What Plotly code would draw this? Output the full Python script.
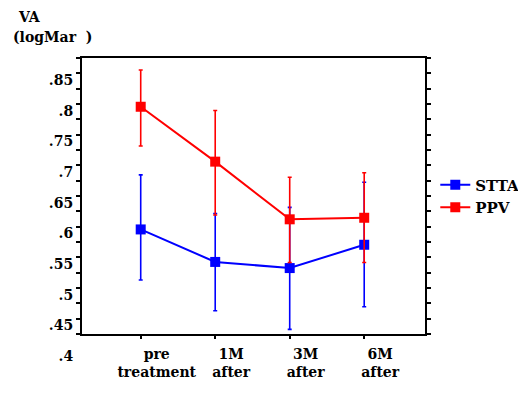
import plotly.graph_objects as go

# ---- data ----
categories = ["pre treatment", "1M after", "3M after", "6M after"]
x_tick_labels = ["pre<br>treatment", "1M<br>after", "3M<br>after", "6M<br>after"]

stta_mean = [0.606, 0.553, 0.543, 0.581]
stta_upper = [0.695, 0.632, 0.642, 0.683]
stta_lower = [0.5235, 0.4735, 0.443, 0.480]

ppv_mean = [0.806, 0.7165, 0.6225, 0.625]
ppv_upper = [0.866, 0.800, 0.691, 0.6985]
ppv_lower = [0.742, 0.6295, 0.552, 0.552]

y_tick_values = [0.40, 0.45, 0.50, 0.55, 0.60, 0.65, 0.70, 0.75, 0.80, 0.85]
y_tick_labels = [".4", ".45", ".5", ".55", ".6", ".65", ".7", ".75", ".8", ".85"]

# tick marks in the reference sit above their labels by a fixed amount
label_offset = 0.0355
tick_positions = [v + label_offset for v in y_tick_values]

FONT = "DejaVu Serif"
RED = "#FF0000"
BLUE = "#0000FF"


def series(name, mean, upper, lower, color):
    return go.Scatter(
        x=categories, y=mean, name=name, mode="lines+markers",
        line=dict(color=color, width=2),
        marker=dict(symbol="square", size=10, color=color),
        error_y=dict(
            type="data", symmetric=False,
            array=[u - m for u, m in zip(upper, mean)],
            arrayminus=[m - l for m, l in zip(mean, lower)],
            color=color, thickness=1.6, width=2,
        ),
    )


fig = go.Figure()
fig.add_trace(series("STTA", stta_mean, stta_upper, stta_lower, BLUE))
fig.add_trace(series("PPV", ppv_mean, ppv_upper, ppv_lower, RED))

fig.update_layout(
    width=510, height=378,
    margin=dict(l=74, r=93, t=50, b=52, autoexpand=False),
    paper_bgcolor="white", plot_bgcolor="white",
    font=dict(family=FONT, size=14, color="black", weight="bold"),
    showlegend=True,
    legend=dict(x=1.03, y=0.60, xanchor="left", yanchor="top", itemwidth=30,
                font=dict(family=FONT, size=15, color="black", weight="bold"),
                bgcolor="rgba(0,0,0,0)", borderwidth=0),
    xaxis=dict(
        type="category", range=[-0.788, 3.816], automargin=False,
        tickmode="array", tickvals=categories, ticktext=x_tick_labels,
        ticks="outside", ticklen=3, tickwidth=2, tickcolor="black",
        showline=True, linecolor="black", linewidth=2, mirror=True,
        showgrid=False, zeroline=False,
        ticklabelshift=16, ticklabelstandoff=3,
        tickfont=dict(family=FONT, size=14, color="black", weight="bold"),
    ),
    yaxis=dict(
        range=[0.4355, 0.8855], automargin=False,
        tickmode="array", tickvals=tick_positions, ticktext=y_tick_labels,
        ticks="outside", ticklen=4, tickwidth=2, tickcolor="black",
        minor=dict(tickmode="linear", tick0=0.4355, dtick=0.025,
                   ticks="outside", ticklen=4, tickwidth=1.5, tickcolor="black",
                   showgrid=False),
        ticklabelshift=22,
        showline=True, linecolor="black", linewidth=2, mirror="ticks",
        showgrid=False, zeroline=False,
        tickfont=dict(family=FONT, size=14, color="black", weight="bold"),
    ),
)

fig.add_annotation(text="VA", xref="paper", yref="paper", x=-0.193, y=1.15,
                   xanchor="left", yanchor="middle", showarrow=False,
                   font=dict(family=FONT, size=14, color="black", weight="bold"))
fig.add_annotation(text="(logMar&nbsp;&nbsp;)", xref="paper", yref="paper", x=-0.207, y=1.075,
                   xanchor="left", yanchor="middle", showarrow=False,
                   font=dict(family=FONT, size=14, color="black", weight="bold"))

fig.write_html("out.html")
